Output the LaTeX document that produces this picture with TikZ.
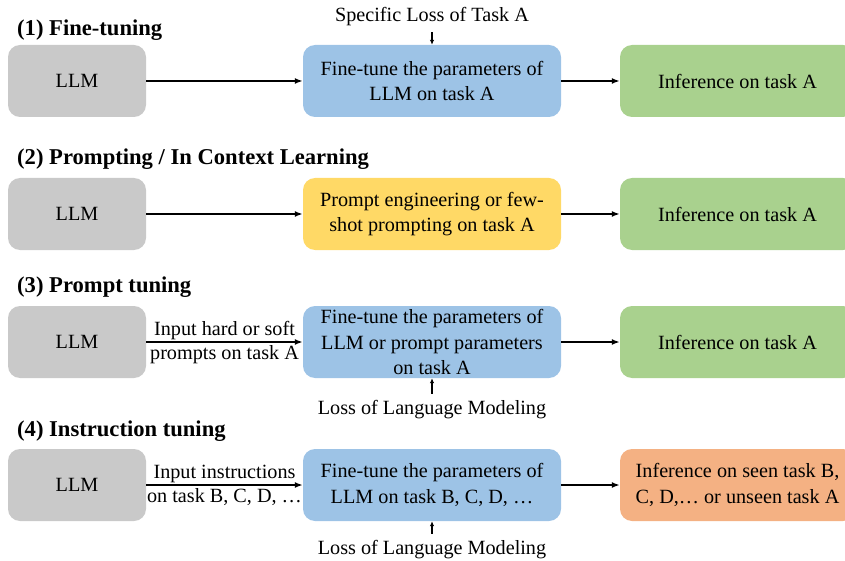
\documentclass[tikz,border=0pt]{standalone}
\usepackage{fontspec}
\setmainfont{Liberation Serif}
\usetikzlibrary{positioning,arrows.meta}
\definecolor{llmgray}{HTML}{C9C9C9}
\definecolor{tuneblue}{HTML}{9DC3E6}
\definecolor{promptyellow}{HTML}{FFD966}
\definecolor{infgreen}{HTML}{A9D18E}
\definecolor{infsalmon}{HTML}{F4B183}
\begin{document}
\begin{tikzpicture}[x=1pt, y=-1pt, font=\fontsize{20.2}{25.5}\selectfont,
  box/.style={rounded corners=12pt, minimum height=72pt, align=center, inner sep=2pt},
  llmbox/.style={box, fill=llmgray, minimum width=138pt},
  tunebox/.style={box, minimum width=258pt},
  outbox/.style={box, minimum width=235pt},
  flow/.style={-{Latex[length=8pt,width=6pt]}, line width=1.6pt},
  tick/.style={-{Latex[length=5pt,width=4.5pt]}, line width=1.3pt},
  losslabel/.style={inner xsep=0pt, inner ysep=7pt},
  title/.style={anchor=west, inner sep=0pt, font=\fontsize{22.6}{26}\selectfont\bfseries}]
    \useasboundingbox (0,0) rectangle (845,561);
    \clip (0,0) rectangle (845,561);
    % (1) fine-tuning
    \node [title] (t1) at (17,30) {(1) Fine-tuning};
    \node [llmbox] (llm1) at (77,81) {LLM};
    \node [tunebox, fill=tuneblue] (ft1) at (432,81) {Fine-tune the parameters of\\LLM on task A};
    \node [outbox, fill=infgreen] (inf1) at (737.5,81) {Inference on task A};
    \node [losslabel, inner ysep=6pt] (loss1) at (432,17) {Specific Loss of Task A};
    \draw [flow] (llm1) -- (ft1);
    \draw [flow] (ft1) -- (inf1);
    \draw [tick] (loss1) -- (ft1);
    % (2) prompting
    \node [title] (t2) at (17,159) {(2) Prompting / In Context Learning};
    \node [llmbox] (llm2) at (77,214) {LLM};
    \node [tunebox, fill=promptyellow] (pr2) at (432,214) {Prompt engineering or few-\\shot prompting on task A};
    \node [outbox, fill=infgreen] (inf2) at (737.5,214) {Inference on task A};
    \draw [flow] (llm2) -- (pr2);
    \draw [flow] (pr2) -- (inf2);
    % (3) prompt tuning
    \node [title] (t3) at (17,287) {(3) Prompt tuning};
    \node [llmbox] (llm3) at (77,342) {LLM};
    \node [tunebox, fill=tuneblue] (ft3) at (432,342) {Fine-tune the parameters of\\LLM or prompt parameters\\on task A};
    \node [outbox, fill=infgreen] (inf3) at (737.5,342) {Inference on task A};
    \node [losslabel] (loss3) at (432,410) {Loss of Language Modeling};
    \draw [flow] (llm3) -- node [above, inner sep=1pt] {Input hard or soft} node [below, inner sep=3pt] {prompts on task A} (ft3);
    \draw [flow] (ft3) -- (inf3);
    \draw [tick] (loss3) -- (ft3);
    % (4) instruction tuning
    \node [title] (t4) at (17,431) {(4) Instruction tuning};
    \node [llmbox] (llm4) at (77,485) {LLM};
    \node [tunebox, fill=tuneblue] (ft4) at (432,485) {Fine-tune the parameters of\\LLM on task B, C, D, …};
    \node [outbox, fill=infsalmon] (inf4) at (737.5,485) {Inference on seen task B,\\C, D,… or unseen task A};
    \node [losslabel] (loss4) at (432,550) {Loss of Language Modeling};
    \draw [flow] (llm4) -- node [above, inner sep=1pt] {Input instructions} node [below, inner sep=3pt] {on task B, C, D, …} (ft4);
    \draw [flow] (ft4) -- (inf4);
    \draw [tick] (loss4) -- (ft4);
\end{tikzpicture}
\end{document}
